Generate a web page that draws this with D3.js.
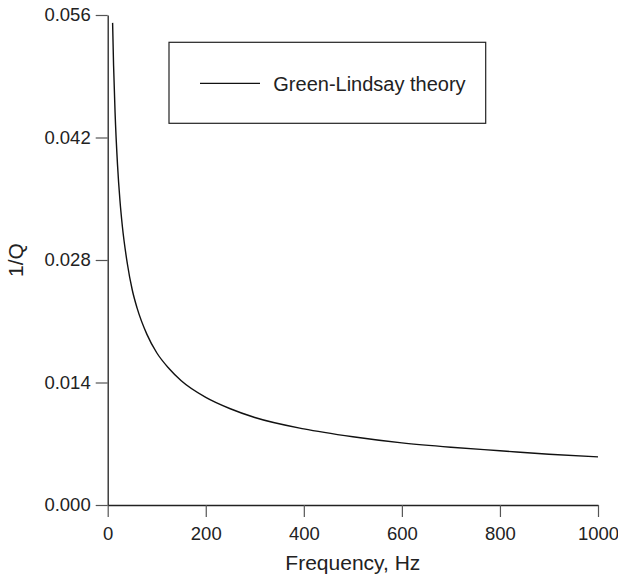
<html>
<head>
<meta http-equiv="content-type" content="text/html" charset="utf-8" />
<script src="https://cdnjs.cloudflare.com/ajax/libs/d3/7.8.5/d3.min.js"></script>
<style>
	body { margin: 0; background: #fff; }
	text { font-family: "Liberation Sans", Arial, Helvetica, sans-serif; fill: #222; }
</style>
</head>
<body>
<div id="chart"></div>
<script>

	// values
	var freq = [10, 12, 15, 20, 25, 30, 40, 50, 60, 80, 100, 125, 150, 200, 250, 300, 400, 500, 600, 700, 800, 900, 1000];
	var invQ = [0.0551, 0.0502, 0.0449, 0.0389, 0.0348, 0.0318, 0.0276, 0.0246, 0.0225, 0.0195, 0.0174, 0.0156, 0.0142,
		0.0123, 0.0110, 0.0100, 0.0087, 0.0078, 0.0071, 0.0066, 0.0062, 0.0058, 0.0055];
	var xTicks = [0, 200, 400, 600, 800, 1000];
	var yTicks = [0, 0.014, 0.028, 0.042, 0.056];
	var seriesName = "Green-Lindsay theory";

	var W = 618, H = 580;
	var m = {top: 15, right: 20, bottom: 75, left: 107.7};

	var svg = d3.select("#chart")
		.append("svg")
		.attr("width", W)
		.attr("height", H);

	var x = d3.scaleLinear().domain([0, 1000]).range([m.left, W - m.right]);
	var y = d3.scaleLinear().domain([0, 0.056]).range([H - m.bottom, m.top]);

	var xAxis = svg.append("g")
		.attr("transform", "translate(0," + (H - m.bottom) + ")")
		.call(d3.axisBottom(x).tickValues(xTicks).tickFormat(d3.format("d")).tickSize(12).tickPadding(10).tickSizeOuter(0));

	var yAxis = svg.append("g")
		.attr("transform", "translate(" + m.left + ",0)")
		.call(d3.axisLeft(y).tickValues(yTicks).tickFormat(d3.format(".3f")).tickSize(12).tickPadding(5).tickSizeOuter(0));

	[xAxis, yAxis].forEach(function(g){
		g.select(".domain").attr("stroke", "#222").attr("stroke-width", 1.3);
		g.selectAll(".tick line").attr("stroke", "#555").attr("stroke-width", 1.2);
		g.selectAll(".tick text").style("font-size", "18.5px").attr("fill", "#222");
	});

	svg.append("text")
		.attr("x", (m.left + W - m.right) / 2)
		.attr("y", 570)
		.attr("text-anchor", "middle")
		.style("font-size", "21px")
		.text("Frequency, Hz");

	svg.append("text")
		.attr("transform", "translate(23," + ((m.top + H - m.bottom) / 2) + ") rotate(-90)")
		.attr("text-anchor", "middle")
		.style("font-size", "21px")
		.text("1/Q");

	var data = freq.map(function(f, i){ return {f: f, v: invQ[i]}; });

	var line = d3.line()
		.x(function(d){ return x(d.f); })
		.y(function(d){ return y(d.v); })
		.curve(d3.curveMonotoneX);

	svg.append("path")
		.datum(data)
		.attr("d", line)
		.attr("fill", "none")
		.attr("stroke", "#111")
		.attr("stroke-width", 1.4);

	// legend
	var lg = svg.append("g");
	lg.append("rect")
		.attr("x", 169).attr("y", 42.3)
		.attr("width", 316.7).attr("height", 81)
		.attr("fill", "none")
		.attr("stroke", "#222")
		.attr("stroke-width", 1.2);
	lg.append("line")
		.attr("x1", 200).attr("x2", 260)
		.attr("y1", 83.3).attr("y2", 83.3)
		.attr("stroke", "#111")
		.attr("stroke-width", 1.3);
	lg.append("text")
		.attr("x", 273.3).attr("y", 91)
		.style("font-size", "20px")
		.text(seriesName);

</script>
</body>
</html>
